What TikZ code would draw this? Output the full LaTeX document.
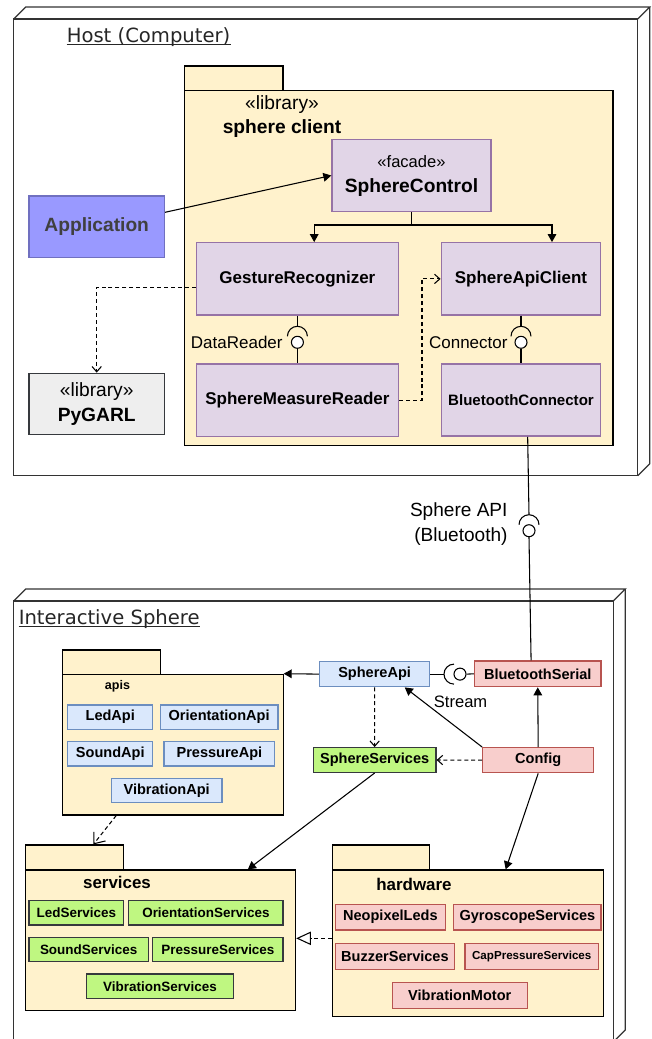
\documentclass[tikz,border=0pt]{standalone}
\usepackage{fontspec}
\setmainfont{Liberation Sans}
\newfontfamily\titlefont{DejaVu Sans}
\usetikzlibrary{arrows.meta,positioning}

\definecolor{pkgfill}{HTML}{FFF2CC}
\definecolor{compfill}{HTML}{E1D5E7}
\definecolor{compline}{HTML}{9673A6}
\definecolor{appfill}{HTML}{9999FF}
\definecolor{appline}{HTML}{7070C0}
\definecolor{libfill}{HTML}{EEEEEE}
\definecolor{darkline}{HTML}{36393D}
\definecolor{apifill}{HTML}{DAE8FC}
\definecolor{apiline}{HTML}{6C8EBF}
\definecolor{svcfill}{HTML}{BFF781}
\definecolor{hwfill}{HTML}{F8CECC}
\definecolor{hwline}{HTML}{B85450}

\begin{document}
\begin{tikzpicture}[
    x=0.75pt, y=-0.75pt,
    every node/.style={font=\fontsize{12.75}{15.3}\selectfont, inner sep=0pt},
    >={Triangle[length=6pt,width=6.5pt]},
    sz/.style 2 args={minimum width=#1*0.75pt, minimum height=#2*0.75pt},
    nodeline/.style={draw=black!80, line width=0.9pt},
    pkg/.style={draw=black, fill=pkgfill, line width=0.9pt},
    pkglabel/.style={font=\bfseries\fontsize{12.7}{15}\selectfont},
    comp/.style={draw=compline, fill=compfill, line width=1pt, align=center,
        font=\bfseries\fontsize{12.75}{15.3}\selectfont},
    bigcomp/.style={align=center, line width=1pt,
        font=\fontsize{14.4}{18.75}\selectfont},
    apibox/.style={draw=apiline, fill=apifill, line width=1pt,
        font=\bfseries\fontsize{10.9}{13}\selectfont},
    svcbox/.style={draw=darkline, fill=svcfill, line width=1pt,
        font=\bfseries\fontsize{10.1}{12}\selectfont},
    hwbox/.style={draw=hwline, fill=hwfill, line width=1pt,
        font=\bfseries\fontsize{10.9}{13}\selectfont},
    ball/.style={circle, draw, fill=white, minimum size=9pt, line width=0.8pt},
    title/.style={font=\titlefont\fontsize{14.7}{17}\selectfont, text=black!85},
    conn/.style={line width=0.8pt},
    dep/.style={conn, dash pattern=on 3pt off 2.2pt,
        -{Straight Barb[length=4pt,width=7pt]}},
    real/.style={conn, dash pattern=on 3pt off 2.2pt,
        -{Triangle[open,length=11pt,width=10pt,fill=white]}},
]
\useasboundingbox (0,0) rectangle (651,1039);

% === Host node (3D box) ===
\def\dd{12}
\draw[nodeline, fill=white] (13.7,19) rectangle (637.7,475.7);
\draw[nodeline] (13.7,19) -- ++(\dd,-\dd) -- (649.7,7) -- (637.7,19);
\draw[nodeline] (649.7,7) -- (649.7,463.7) -- (637.7,475.7);
\node[title, anchor=west] (hosttitle) at (66.5,37) {Host (Computer)};
\draw[line width=0.8pt, black!85] ([yshift=-1.6pt]hosttitle.base west) -- ([yshift=-1.6pt]hosttitle.base east);

% === sphere client package ===
\node[pkg, sz={98.3}{24.7}] (clienttab) at (233.85,78.35) {};
\node[pkg, sz={428.3}{354.6}] (clientbody) at (398.85,268) {};
\node[align=center, font=\fontsize{14.4}{17.4}\selectfont] (clientlabel) at (282,116.5)
    {«library»\\\textbf{sphere client}};

\node[bigcomp, draw=compline, fill=compfill, sz={159}{72.4}] (ctrl) at (411.5,175.5)
    {{\fontsize{12.4}{18.75}\selectfont «facade»}\\\textbf{SphereControl}};
\node[bigcomp, draw=appline, fill=appfill, text=black!75, sz={135.4}{61.3}] (app) at (96.7,226.7)
    {\textbf{Application}};
\node[bigcomp, draw=darkline, fill=libfill, sz={135.4}{61}] (pygarl) at (96.7,403.8)
    {«library»\\\textbf{PyGARL}};

\node[comp, sz={202.2}{72.3}] (gest) at (297.4,278.9) {GestureRecognizer};
\node[comp, sz={159.4}{72.3}] (apiclient) at (521,278.9) {SphereApiClient};
\node[comp, sz={202.2}{72.3}] (smr) at (297.4,400.3) {SphereMeasureReader};
\node[comp, sz={159.4}{72.3}, font=\bfseries\fontsize{11.3}{13.5}\selectfont] (bconn) at (521,400)
    {BluetoothConnector};

% facade calls
\draw[conn, ->] ([yshift=10.8pt]app.east) -- (ctrl.west);
\coordinate (fork) at (411.5,225);
\draw[conn, ->] (ctrl.south) -- (fork) -| ([xshift=12.6pt]gest.north);
\draw[conn, ->] (fork) -| ([xshift=23.25pt]apiclient.north);

% required / provided interfaces
\node[ball] (drball) at (297.4,342.3) {};
\draw[conn] (gest.south) -- ([yshift=12pt]drball.center);
\draw[conn] ([xshift=-7.5pt,yshift=4.5pt]drball.center) arc[start angle=180, end angle=0, radius=7.5pt];
\draw[conn] (drball.south) -- (smr.north);
\node[left=6pt of drball] (drlabel) {DataReader};

\node[ball] (crball) at (521,342.3) {};
\draw[conn] (apiclient.south) -- ([yshift=12pt]crball.center);
\draw[conn] ([xshift=-7.5pt,yshift=4.5pt]crball.center) arc[start angle=180, end angle=0, radius=7.5pt];
\draw[conn] (crball.south) -- (bconn.north);
\node[left=5pt of crball] (crlabel) {Connector};

% dependencies
\draw[dep] ([yshift=-6.3pt]gest.west) -| (pygarl.north);
\draw[dep] (smr.east) -- ++(22.8,0) |- (apiclient.west);

% === Sphere API (Bluetooth) ===
\node[ball] (apiball) at (529,530.7) {};
\draw[conn] ([xshift=5pt]bconn.south) -- ([yshift=12pt]apiball.center);
\draw[conn] ([xshift=-7.5pt,yshift=4.5pt]apiball.center) arc[start angle=180, end angle=0, radius=7.5pt];
\node[left=11pt of apiball, yshift=5pt, align=right, font=\fontsize{14.3}{18.75}\selectfont] (apilabel)
    {Sphere API\\(Bluetooth)};

% === Interactive Sphere node (3D box) ===
\draw[nodeline, fill=white] (13.7,601) rectangle (613.3,1042);
\draw[nodeline] (13.7,601) -- ++(\dd,-\dd) -- (625.3,589) -- (613.3,601);
\draw[nodeline] (625.3,589) -- (625.3,1030) -- (613.3,1042);
\node[title, anchor=west] (spheretitle) at (18.5,619.3) {Interactive Sphere};
\draw[line width=0.8pt, black!85] ([yshift=-1.6pt]spheretitle.base west) -- ([yshift=-1.6pt]spheretitle.base east);

% apis package
\node[pkg, sz={98.3}{24.3}] (apistab) at (111.45,662.15) {};
\node[pkg, sz={220.8}{140.7}] (apisbody) at (172.7,744.65) {};
\node[font=\bfseries\fontsize{9.4}{11}\selectfont] (apislabel) at (117.5,686) {apis};
\node[apibox, sz={85.1}{24.3}] (ledapi) at (110.25,717.15) {LedApi};
\node[apibox, sz={117.9}{24.3}] (orientapi) at (219.15,717.15) {OrientationApi};
\node[apibox, sz={85.1}{24.3}] (soundapi) at (110.25,753.85) {SoundApi};
\node[apibox, sz={110.8}{24.3}] (pressapi) at (219.4,753.85) {PressureApi};
\node[apibox, sz={110.9}{24.4}] (vibapi) at (166.65,790.5) {VibrationApi};

% services package
\node[pkg, sz={98}{25}] (svtab) at (74.7,857.5) {};
\node[pkg, sz={269.9}{140.7}] (svbody) at (160.65,940.35) {};
\node[pkglabel] (svlabel) at (117,882) {services};
\node[svcbox, sz={94.6}{24.3}] (ledsvc) at (76.4,912.85) {LedServices};
\node[svcbox, sz={154.4}{24.3}] (orientsvc) at (205.9,912.85) {OrientationServices};
\node[svcbox, sz={119.1}{24.4}] (soundsvc) at (88.65,949.5) {SoundServices};
\node[svcbox, sz={130.3}{24.4}] (presssvc) at (217.95,949.5) {PressureServices};
\node[svcbox, sz={147.4}{24.7}] (vibsvc) at (160,986.35) {VibrationServices};

% hardware package
\node[pkg, sz={97.5}{25}] (hwtab) at (380.85,857.5) {};
\node[pkg, sz={271.4}{146.5}] (hwbody) at (467.8,943.25) {};
\node[pkglabel] (hwlabel) at (414,884) {hardware};
\node[hwbox, sz={110}{25.7}] (neopixel) at (390.4,917.15) {NeopixelLeds};
\node[hwbox, sz={147.4}{25.7}] (gyro) at (527.4,917.15) {GyroscopeServices};
\node[hwbox, sz={119.1}{26}] (buzzer) at (394.95,956.3) {BuzzerServices};
\node[hwbox, sz={133.7}{26}, font=\bfseries\fontsize{8.7}{10.5}\selectfont] (cappress) at (531.75,956.3)
    {CapPressureServices};
\node[hwbox, sz={134.9}{26.4}] (vibmotor) at (459.75,995.5) {VibrationMotor};

% sphere firmware parts
\node[apibox, sz={110}{25.2}] (sphereapi) at (374.6,674.1) {SphereApi};
\node[hwbox, sz={126.5}{25.7}] (btserial) at (537.75,673.85) {BluetoothSerial};
\node[svcbox, sz={122.5}{24.6}, font=\bfseries\fontsize{10.9}{13}\selectfont] (spheresvc) at (374.65,760)
    {SphereServices};
\node[hwbox, sz={110.8}{25}] (config) at (538.2,760.2) {Config};

\draw[conn] (apiball.south) -- ([xshift=-5pt]btserial.north);

% SphereApi -( O- BluetoothSerial
\node[ball] (sball) at (460,674.1) {};
\draw[conn] (sphereapi.east) -- ([xshift=-12pt]sball.center);
\draw[conn] ([xshift=-4.5pt,yshift=7.5pt]sball.center) arc[start angle=90, end angle=270, radius=7.5pt];
\draw[conn] (sball.east) -- (btserial.west);

% sphere connectors
\draw[conn, ->] (sphereapi.west) -- (apisbody.north east);
\draw[conn, ->] (config.north west) -- ([xshift=22.6pt]sphereapi.south)
    node[pos=0.75, anchor=west, xshift=7pt, font=\fontsize{12.4}{15}\selectfont] (streamlabel) {Stream};
\draw[conn, ->] (config.north) -- (btserial.south);
\draw[dep] (sphereapi.south) -- (spheresvc.north);
\draw[dep] (config.west) -- (spheresvc.east);
\draw[conn, ->] (spheresvc.south) -- ([xshift=65.4pt]svbody.north);
\draw[conn, ->] (config.south) -- ([xshift=28.4pt]hwbody.north);
\draw[conn, dash pattern=on 3pt off 2.2pt, -{Straight Barb[length=7pt,width=11pt]}]
    ([xshift=-42.4pt]apisbody.south) -- ([xshift=14pt]svtab.north);
\draw[real] ([yshift=3.7pt]hwbody.west) -- ([yshift=3.7pt]hwbody.west -| svbody.east);

\end{tikzpicture}
\end{document}
